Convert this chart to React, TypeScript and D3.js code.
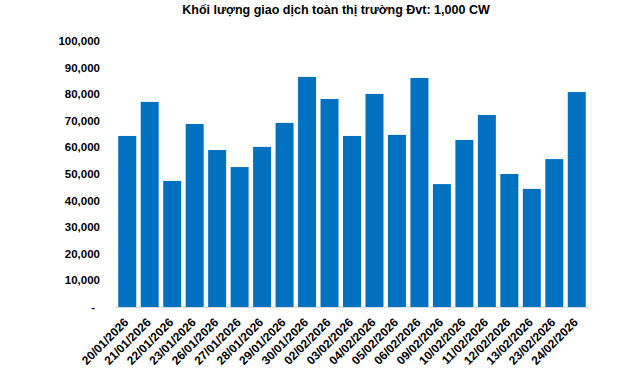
import React from "react";
import * as d3 from "d3";

const categories = ["20/01/2026","21/01/2026","22/01/2026","23/01/2026","26/01/2026","27/01/2026","28/01/2026","29/01/2026","30/01/2026","02/02/2026","03/02/2026","04/02/2026","05/02/2026","06/02/2026","09/02/2026","10/02/2026","11/02/2026","12/02/2026","13/02/2026","23/02/2026","24/02/2026"];
const values = [64300,77100,47400,68800,59000,52600,60200,69200,86500,78200,64300,80100,64700,86100,46200,62800,72200,50000,44400,55600,80800];
const yTicks = [0,10000,20000,30000,40000,50000,60000,70000,80000,90000,100000];
const title = "Khối lượng giao dịch toàn thị trường Đvt: 1,000 CW";

export default function App() {
  const W = 640, H = 368;
  const left = 116, right = 588, top = 41, bottom = 307;
  const x = d3.scaleBand<string>().domain(categories).range([left, right]).paddingInner(0.2).paddingOuter(0.1);
  const y = d3.scaleLinear().domain([0, 100000]).range([bottom, top]);
  const fmt = d3.format(",");
  const font = "'Liberation Sans', Arial, sans-serif";
  return (
    <svg width={W} height={H} style={{ position: "absolute", left: 0, top: 0, background: "#fff" }} fontFamily={font}>
      <text x={336} y={14} textAnchor="middle" fontSize={12.5} fontWeight="bold" fill="#000">{title}</text>
      {yTicks.map(t => (
        <text key={t} x={t === 0 ? 95 : 100} y={y(t) + 4} textAnchor="end" fontSize={11.5} fontWeight="bold" fill="#000">
          {t === 0 ? "-" : fmt(t)}
        </text>
      ))}
      {categories.map((c, i) => (
        <rect key={c} x={x(c)} y={y(values[i])} width={x.bandwidth()} height={bottom - y(values[i])} fill="#0070C0" />
      ))}
      <line x1={left} x2={right} y1={bottom + 0.5} y2={bottom + 0.5} stroke="#D9D9D9" strokeWidth={1} />
      {categories.map(c => {
        const cx = (x(c) as number) + x.bandwidth() / 2 + 2;
        const cy = bottom + 16;
        return (
          <text key={c} transform={`translate(${cx},${cy}) rotate(-45)`} textAnchor="end" fontSize={12} fontWeight="bold" fill="#000">{c}</text>
        );
      })}
    </svg>
  );
}
